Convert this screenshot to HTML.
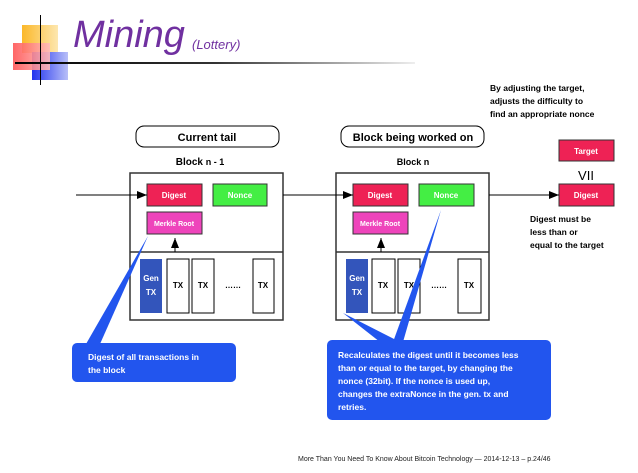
<!DOCTYPE html>
<html><head><meta charset="utf-8"><style>
body{margin:0;width:638px;height:473px;background:#fff;overflow:hidden;position:relative;font-family:"Liberation Sans",sans-serif}
.a{position:absolute}
</style></head><body>
<div class="a" style="left:22px;top:25px;width:36px;height:28px;background:linear-gradient(90deg,#fbb829,#fde7b0)"></div>
<div class="a" style="left:32px;top:52px;width:36px;height:28px;background:linear-gradient(90deg,#2233ee,#b8bff8)"></div>
<div class="a" style="left:13px;top:43px;width:37px;height:27px;background:linear-gradient(90deg,#f55,#fbb);opacity:.9"></div>
<div class="a" style="left:40px;top:15px;width:1px;height:70px;background:#000"></div>
<div class="a" style="left:15px;top:62px;width:400px;height:2px;background:linear-gradient(90deg,#000,#333 50%,#eee)"></div>
<div class="a" style="left:73px;top:14px;font-size:38px;font-style:italic;color:#7030a0;letter-spacing:0">Mining</div>
<div class="a" style="left:192px;top:37px;font-size:13px;font-style:italic;color:#7030a0">(Lottery)</div>
<svg class="a" style="left:0;top:0" width="638" height="473" font-family="Liberation Sans, sans-serif" font-weight="bold">
<defs><marker id="ar" markerWidth="10" markerHeight="8" refX="10" refY="4" orient="auto" markerUnits="userSpaceOnUse"><path d="M0,0L10,4L0,8z" fill="#000"/></marker></defs>
<g text-anchor="middle">
<rect x="136" y="126" width="143" height="21" rx="8" fill="#fff" stroke="#000"/>
<text x="207" y="141" font-size="11">Current tail</text>
<text x="200" y="165" font-size="10">Block <tspan font-size="9">n - 1</tspan></text>
<rect x="341" y="126" width="143" height="21" rx="8" fill="#fff" stroke="#000"/>
<text x="413" y="141" font-size="11">Block being worked on</text>
<text x="413" y="165" font-size="9">Block n</text>
<g font-size="8">
<rect x="130" y="173" width="153" height="147" fill="#fff" stroke="#333" stroke-width="1.5"/>
<line x1="130" y1="252" x2="283" y2="252" stroke="#333" stroke-width="1.5"/>
<rect x="147" y="184" width="55" height="22" fill="#ee2255" stroke="#333"/><text x="174" y="198" fill="#fff">Digest</text>
<rect x="213" y="184" width="54" height="22" fill="#44ee44" stroke="#333"/><text x="240" y="198" fill="#fff">Nonce</text>
<rect x="147" y="212" width="55" height="22" fill="#ee44bb" stroke="#333"/><text x="174" y="226" fill="#fff" font-size="7">Merkle Root</text>
<line x1="175" y1="252" x2="175" y2="238" stroke="#000" marker-end="url(#ar)"/>
<rect x="140" y="259" width="22" height="54" fill="#3355bb"/><text x="151" y="281" fill="#fff">Gen</text><text x="151" y="295" fill="#fff">TX</text>
<rect x="167" y="259" width="22" height="54" fill="#fff" stroke="#000"/><text x="178" y="288">TX</text>
<rect x="192" y="259" width="22" height="54" fill="#fff" stroke="#000"/><text x="203" y="288">TX</text>
<text x="233" y="288">……</text>
<rect x="253" y="259" width="21" height="54" fill="#fff" stroke="#000"/><text x="263" y="288">TX</text>

<rect x="336" y="173" width="153" height="147" fill="#fff" stroke="#333" stroke-width="1.5"/>
<line x1="336" y1="252" x2="489" y2="252" stroke="#333" stroke-width="1.5"/>
<rect x="353" y="184" width="55" height="22" fill="#ee2255" stroke="#333"/><text x="380" y="198" fill="#fff">Digest</text>
<rect x="419" y="184" width="55" height="22" fill="#44ee44" stroke="#333"/><text x="446" y="198" fill="#fff">Nonce</text>
<rect x="353" y="212" width="55" height="22" fill="#ee44bb" stroke="#333"/><text x="380" y="226" fill="#fff" font-size="7">Merkle Root</text>
<line x1="381" y1="252" x2="381" y2="238" stroke="#000" marker-end="url(#ar)"/>
<rect x="346" y="259" width="22" height="54" fill="#3355bb"/><text x="357" y="281" fill="#fff">Gen</text><text x="357" y="295" fill="#fff">TX</text>
<rect x="372" y="259" width="23" height="54" fill="#fff" stroke="#000"/><text x="383" y="288">TX</text>
<rect x="398" y="259" width="22" height="54" fill="#fff" stroke="#000"/><text x="409" y="288">TX</text>
<text x="439" y="288">……</text>
<rect x="458" y="259" width="23" height="54" fill="#fff" stroke="#000"/><text x="469" y="288">TX</text>

<rect x="559" y="140" width="55" height="21" fill="#ee2255" stroke="#333"/><text x="586" y="154" fill="#fff">Target</text>
<text x="586" y="180" font-size="13" font-weight="normal">VII</text>
<rect x="559" y="184" width="55" height="22" fill="#ee2255" stroke="#333"/><text x="586" y="198" fill="#fff">Digest</text>
</g>
</g>
<line x1="76" y1="195" x2="147" y2="195" stroke="#000" marker-end="url(#ar)"/>
<line x1="283" y1="195" x2="353" y2="195" stroke="#000" marker-end="url(#ar)"/>
<line x1="489" y1="195" x2="559" y2="195" stroke="#000" marker-end="url(#ar)"/>
<g font-size="8.5">
<text x="490" y="91">By adjusting the target,</text>
<text x="490" y="104">adjusts the difficulty to</text>
<text x="490" y="117">find an appropriate nonce</text>
<text x="530" y="222">Digest must be</text>
<text x="530" y="235">less than or</text>
<text x="530" y="248">equal to the target</text>
</g>
<path d="M86,344L148,236L100,344z" fill="#2255ee"/>
<rect x="72" y="343" width="164" height="39" rx="5" fill="#2255ee"/>
<path d="M393,342L441,210L403,342z" fill="#2255ee"/>
<path d="M380,342L343,313L400,342z" fill="#2255ee"/>
<rect x="327" y="340" width="224" height="80" rx="5" fill="#2255ee"/>
<g font-size="8.5" fill="#fff">
<text x="88" y="360">Digest of all transactions in</text>
<text x="88" y="373">the block</text>
<text x="338" y="358">Recalculates the digest until it becomes less</text>
<text x="338" y="371">than or equal to the target, by changing the</text>
<text x="338" y="384">nonce (32bit). If the nonce is used up,</text>
<text x="338" y="397">changes the extraNonce in the gen. tx and</text>
<text x="338" y="410">retries.</text>
</g>
<text x="298" y="461" font-size="7" font-weight="normal" fill="#222">More Than You Need To Know About Bitcoin Technology — 2014-12-13 – p.24/46</text>
</svg>
</body></html>
